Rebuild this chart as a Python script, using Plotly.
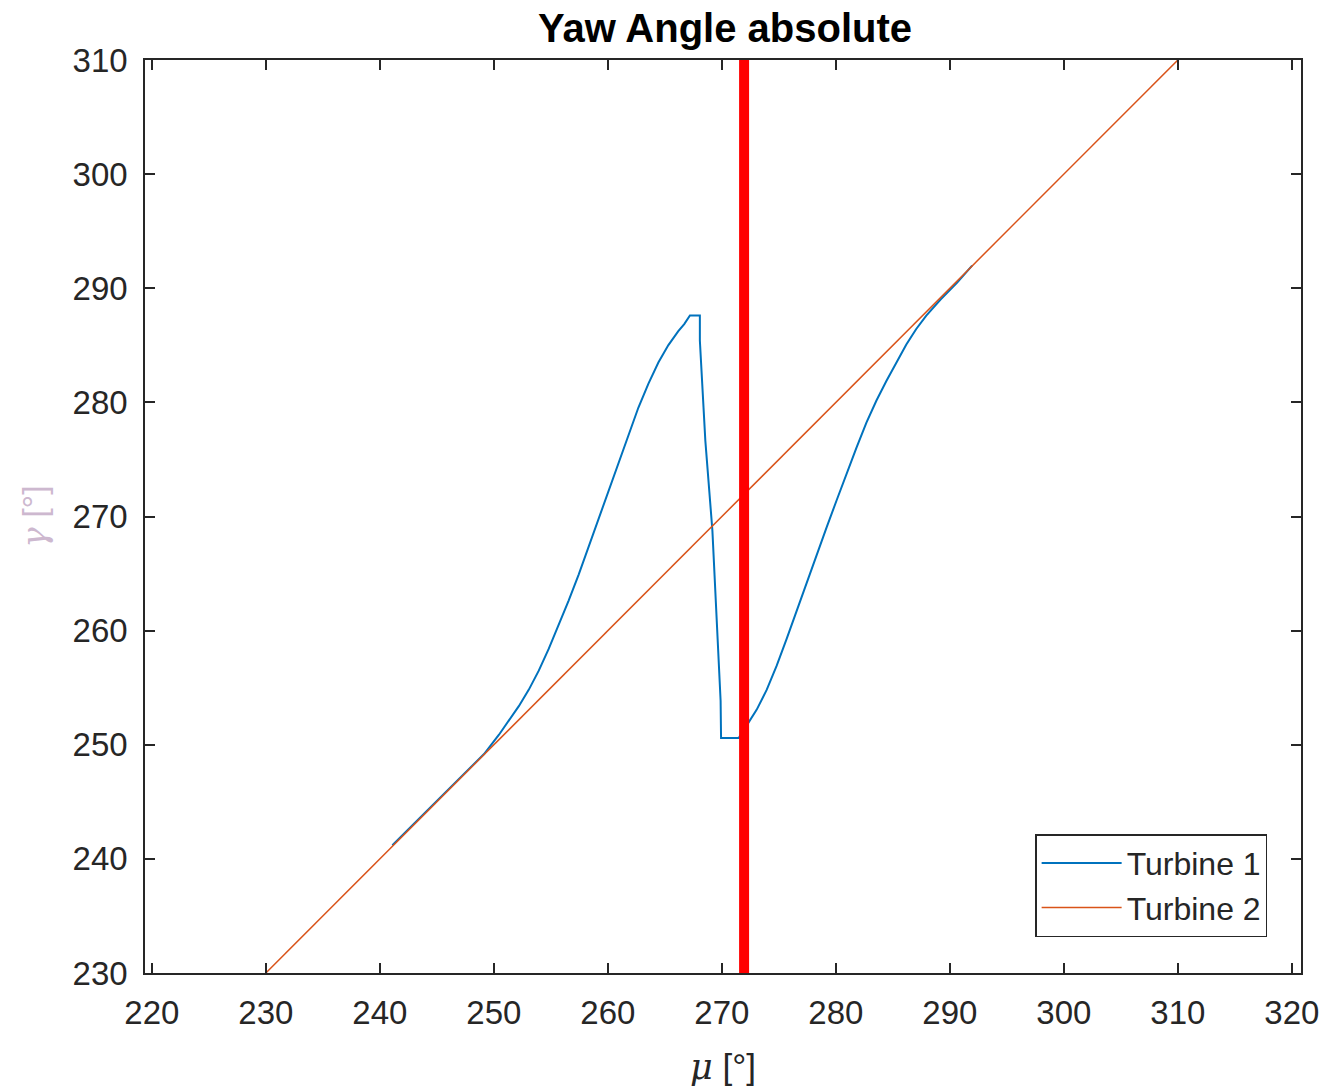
import plotly.graph_objects as go

# Turbine 1 yaw angle vs. wind direction
t1_mu = [241.1, 245.0, 249.14, 250.45, 251.32, 252.19, 253.07, 253.94, 254.82, 255.69,
         256.56, 257.44, 258.31, 259.19, 260.06, 260.94, 261.81, 262.68, 263.56,
         264.43, 265.31, 266.18, 266.70, 267.20, 268.07,
         268.07, 268.55, 269.17, 269.89, 269.93,
         271.49, 272.19, 273.06, 273.94, 274.81, 275.69, 276.56, 277.43, 278.31,
         279.18, 280.06, 280.93, 281.81, 282.68, 283.56, 284.43, 285.30, 286.18,
         287.05, 287.93, 289.18, 290.64, 291.95]
t1_gamma = [241.2, 245.1, 249.19, 250.88, 252.11, 253.38, 254.83, 256.49, 258.42, 260.48,
            262.63, 264.91, 267.36, 269.82, 272.36, 274.82, 277.27, 279.55, 281.65,
            283.49, 285.02, 286.25, 286.86, 287.61, 287.61,
            285.42, 276.65, 268.76, 253.86, 250.60,
            250.60, 251.67, 253.08, 254.83, 256.93, 259.30, 261.75, 264.21, 266.66,
            269.03, 271.40, 273.76, 276.04, 278.23, 280.16, 281.87, 283.53, 285.07,
            286.43, 287.61, 289.01, 290.50, 291.99]

# Turbine 2 follows the wind direction
t2_mu = [230.0, 250.0, 260.0, 265.0, 270.0, 274.0, 280.0, 290.0, 310.0]
t2_gamma = [230.0, 250.0, 260.0, 265.0, 270.0, 274.0, 280.0, 290.0, 310.0]

# Current wind direction marker
mu_now = 271.95

x_ticks = list(range(220, 321, 10))
y_ticks = list(range(230, 311, 10))

AX = "#262626"
FONT = "Liberation Sans, Arial, sans-serif"

fig = go.Figure()
fig.add_trace(go.Scatter(x=t1_mu, y=t1_gamma, mode="lines", name="Turbine 1",
                         line=dict(color="#0072BD", width=2)))
fig.add_trace(go.Scatter(x=t2_mu, y=t2_gamma, mode="lines", name="Turbine 2",
                         line=dict(color="#D95319", width=1.5)))
fig.add_trace(go.Scatter(x=[mu_now, mu_now], y=[y_ticks[0], y_ticks[-1]], mode="lines",
                         showlegend=False, line=dict(color="#FF0000", width=10)))

axis_common = dict(
    showline=True, linecolor=AX, linewidth=1.5, mirror="ticks",
    ticks="inside", ticklen=10, tickwidth=1.5, tickcolor=AX,
    showgrid=False, zeroline=False,
    tickfont=dict(family=FONT, size=33, color=AX),
)

fig.update_xaxes(range=[219.4, 320.8], tickvals=x_ticks, ticklabelstandoff=10,
                 title=dict(text="<span style=\"font-family:'DejaVu Serif'\"><i>μ</i></span> [°]",
                            font=dict(family=FONT, size=35, color=AX), standoff=24),
                 **axis_common)
fig.update_yaxes(range=[230, 310], tickvals=y_ticks, ticklabelstandoff=9,
                 title=dict(text="<span style=\"font-family:'DejaVu Serif'\"><i>γ</i></span> [°]",
                            font=dict(family=FONT, size=34, color="#CDB8CF"), standoff=16),
                 **axis_common)

fig.update_layout(
    width=1331, height=1092,
    margin=dict(l=145, r=26, t=60, b=119),
    paper_bgcolor="white", plot_bgcolor="white",
    title=dict(text="<b>Yaw Angle absolute</b>", x=0.5447, xanchor="center",
               y=1 - 28 / 1092, yanchor="middle", yref="container",
               font=dict(family=FONT, size=40, color="#000000")),
    legend=dict(x=0.9707, y=0.0392, xanchor="right", yanchor="bottom",
                bgcolor="white", bordercolor=AX, borderwidth=1.5,
                font=dict(family=FONT, size=32, color=AX),
                itemwidth=80, tracegroupgap=0),
    showlegend=True,
)

fig.write_html("out.html")
